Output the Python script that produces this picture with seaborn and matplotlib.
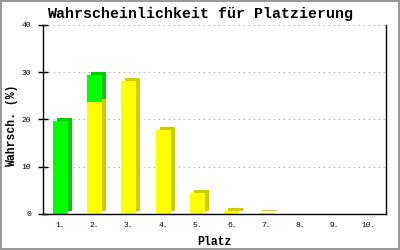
import matplotlib
matplotlib.use("Agg")
import matplotlib.pyplot as plt
import matplotlib.transforms as mtransforms
from matplotlib.patches import Rectangle
import seaborn as sns

places = ["1.", "2.", "3.", "4.", "5.", "6.", "7.", "8.", "9.", "10."]
yellow_vals = [0, 23.7, 28.1, 17.8, 4.5, 0.7, 0.2, 0, 0, 0]
green_vals = [19.6, 5.7, 0, 0, 0, 0, 0, 0, 0, 0]
total_vals = [y + g for y, g in zip(yellow_vals, green_vals)]
yticks = [0, 10, 20, 30, 40]

YEL, YEL_D = "#ffff00", "#cccc00"
GRN, GRN_D = "#00ff00", "#00cc00"
MONO = "Liberation Mono"

sns.set_style("white")
plt.rcParams["font.family"] = [MONO, "DejaVu Sans Mono"]
plt.rcParams["text.color"] = "black"
plt.rcParams["axes.labelcolor"] = "black"
plt.rcParams["xtick.color"] = "black"
plt.rcParams["ytick.color"] = "black"

fig = plt.figure(figsize=(4, 2.5), dpi=100)
ax = fig.add_axes([43 / 400, 1 - 214 / 250, (386 - 43) / 400, (214 - 25) / 250])

W = 0.44
common = dict(ax=ax, width=W, saturation=1, errorbar=None, linewidth=0, order=places)
# depth (side) layers
sns.barplot(x=places, y=total_vals, color=GRN_D, **common)
sns.barplot(x=places, y=yellow_vals, color=YEL_D, **common)
offset = ax.transData + mtransforms.ScaledTranslation(0.04, 0.03, fig.dpi_scale_trans)
for cont in ax.containers[:2]:
    for p in cont.patches:
        p.set_transform(offset)
# front faces
sns.barplot(x=places, y=total_vals, color=GRN, **common)
sns.barplot(x=places, y=yellow_vals, color=YEL, **common)

ax.set_xlim(-0.5, 9.5)
ax.set_ylim(0, 40)
ax.set_yticks(yticks)
ax.set_yticklabels([str(t) for t in yticks])

ax.yaxis.grid(True, color="#bbbbbb", linestyle=(0, (1.5, 3)), linewidth=0.8)
ax.xaxis.grid(False)
ax.set_axisbelow(True)

for s in ["left", "bottom", "right"]:
    ax.spines[s].set_visible(True)
    ax.spines[s].set_color("black")
    ax.spines[s].set_linewidth(1.0)
ax.spines["top"].set_visible(False)

ax.tick_params(axis="y", direction="inout", length=7, width=1.0, colors="black",
               pad=5, labelsize=5.8, left=True)
ax.tick_params(axis="x", length=0, pad=6, labelsize=5.8, colors="black")

ax.set_xlabel("Platz", fontsize=8.3, fontweight="bold", labelpad=5, color="black")
ax.set_ylabel("Wahrsch. (%)", fontsize=8.3, fontweight="bold", color="black")
ax.yaxis.set_label_coords(-0.072, 0.466)

fig.text(0.5, 1 - 18 / 250, "Wahrscheinlichkeit für Platzierung",
         ha="center", va="baseline", fontsize=10.8, fontweight="bold", color="black")

fig.patches.append(Rectangle((0, 0), 1, 1, transform=fig.transFigure, fill=False,
                             edgecolor="#999999", linewidth=2.9))

fig.savefig("out.png", dpi=100)
